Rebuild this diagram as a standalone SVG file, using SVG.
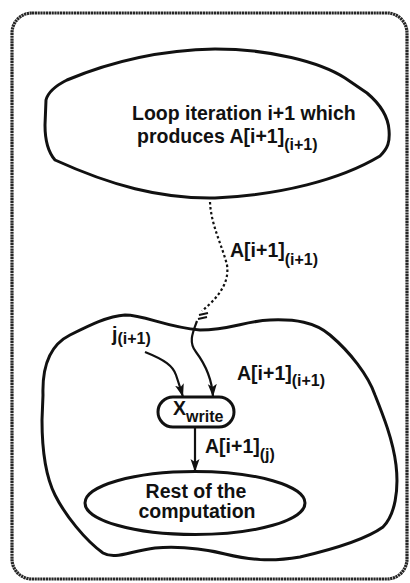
<svg xmlns="http://www.w3.org/2000/svg" width="410" height="583" viewBox="0 0 410 583">
<defs>
<style>
.t{font-family:"Liberation Sans",Arial,sans-serif;font-weight:bold;font-size:19.5px;fill:#111}
.s{font-size:16px}
.shape{fill:none;stroke:#111;stroke-width:3;stroke-linejoin:round}
.conn{fill:none;stroke:#111;stroke-width:2.2}
</style>
<marker id="ah" markerUnits="userSpaceOnUse" markerWidth="14" markerHeight="10" refX="13" refY="4.5" orient="auto">
<path d="M0,0 L13,4.5 L0,9 L3,4.5 Z" fill="#111"/>
</marker>
</defs>
<rect x="12" y="13" width="395" height="566" rx="20" fill="#fff" stroke="#262626" stroke-width="3.2" stroke-dasharray="2.2 0.6"/>

<g id="loop-iteration">
<path class="shape" d="M 55,160 C 48,152 45,140 45,125 L 46,100 C 48,92 55,86 67,80 C 110,62 160,50 215,49 C 270,49 320,62 345,78 L 367,93 C 380,104 388,115 389,130 C 390,142 388,148 380,156 C 340,180 280,195 215,198 C 160,199 110,185 55,160 Z"/>
<text class="t" x="132" y="120">Loop iteration i+1 which</text>
<text class="t" x="137" y="143">produces A[i+1]<tspan class="s" dy="7">(i+1)</tspan></text>
</g>

<g id="consumer-region">
<path class="shape" d="M 43,395 C 42,365 50,345 70,335 C 90,325 108,316 125,315 C 145,315 165,327 200,330 C 230,330 245,321 270,320 C 295,319 315,322 330,335 C 350,352 368,375 375,395 C 383,415 393,440 396,465 C 399,490 395,515 383,527 C 365,540 330,550 300,557 C 270,562 250,560 225,554 C 200,548 180,546 155,548 C 130,551 115,560 103,553 C 85,540 65,515 55,495 C 45,475 42,450 42,420 Z"/>
</g>

<g id="xwrite">
<rect class="shape" x="158" y="397" width="76" height="30" rx="15" stroke-width="2.5"/>
<text class="t" x="173" y="415">X<tspan class="s" dy="7">write</tspan></text>
</g>

<g id="rest">
<ellipse class="shape" cx="195" cy="503" rx="110" ry="31.5"/>
<text class="t" x="196" y="498" text-anchor="middle">Rest of the</text>
<text class="t" x="197" y="518" text-anchor="middle">computation</text>
</g>

<g id="connectors">
<path class="conn" d="M 210,202 C 211,225 222,245 227,265 C 230,285 215,300 202,311" stroke-width="2.6" stroke-dasharray="2.5 2.5"/>
<path class="conn" d="M 199,315 L 208,313 M 198,319 L 207,317" stroke-width="2"/>
<path class="conn" d="M 197,321 C 193,332 188,342 196,352 C 205,364 212,378 213,397" marker-end="url(#ah)"/>
<path class="conn" d="M 145,352 C 165,360 173,366 176,375 C 179,384 181,390 183,397" marker-end="url(#ah)"/>
<path class="conn" d="M 195,427 L 195,472" marker-end="url(#ah)"/>
</g>

<g id="labels">
<text class="t" x="230" y="257">A[i+1]<tspan class="s" dy="8">(i+1)</tspan></text>
<text class="t" x="237" y="380">A[i+1]<tspan class="s" dy="6">(i+1)</tspan></text>
<text class="t" x="112" y="341">j<tspan class="s" dy="3">(i+1)</tspan></text>
<text class="t" x="205" y="453">A[i+1]<tspan class="s" dy="7">(j)</tspan></text>
</g>
</svg>
